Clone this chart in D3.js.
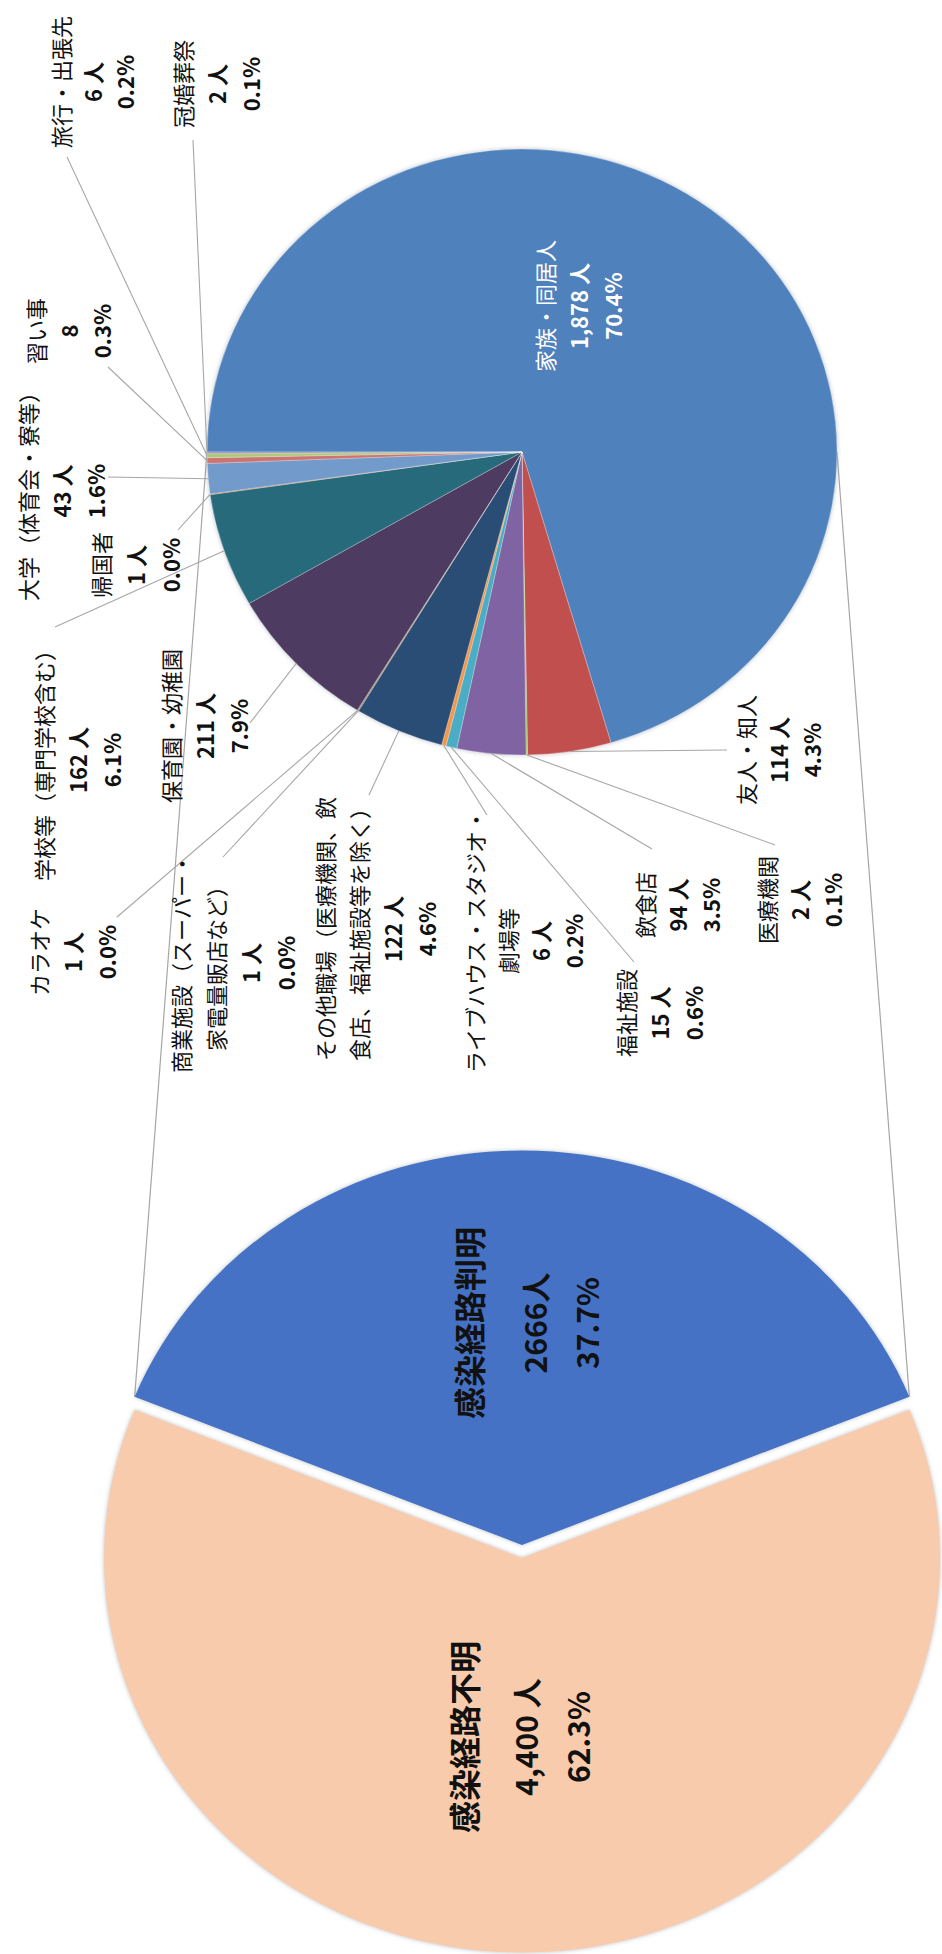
<!DOCTYPE html>
<html>
<head>
<meta charset="utf-8">
<script src="https://cdn.jsdelivr.net/npm/d3@7"></script>
<style>
  html, body { margin: 0; padding: 0; background: #ffffff; }
  svg { display: block; }
  text { font-family: "Noto Sans CJK JP", "Noto Sans", sans-serif; }
</style>
</head>
<body>
<svg id="chart" width="942" height="1954"></svg>
<script>
// ---- primary pie: infection route known / unknown ----
const primaryNames = ["感染経路判明", "感染経路不明"];
const primaryCounts = [2666, 4400];
const primaryCountFormats = ["d", ","];
const primaryUnits = ["人", " 人"];
const primaryColors = ["#4472C4", "#F8CBAD"];

// ---- secondary pie: breakdown of known routes ----
const routeNames = [
  ["家族・同居人"],
  ["友人・知人"],
  ["医療機関"],
  ["飲食店"],
  ["福祉施設"],
  ["ライブハウス・スタジオ・", "劇場等"],
  ["その他職場（医療機関、飲", "食店、福祉施設等を除く）"],
  ["商業施設（スーパー・", "家電量販店など）"],
  ["カラオケ"],
  ["保育園・幼稚園"],
  ["学校等（専門学校含む）"],
  ["帰国者"],
  ["大学（体育会・寮等）"],
  ["習い事"],
  ["旅行・出張先"],
  ["冠婚葬祭"]
];
const routeCounts = [1878, 114, 2, 94, 15, 6, 122, 1, 1, 211, 162, 1, 43, 8, 6, 2];
const routeUnits = [" 人", " 人", " 人", " 人", " 人", " 人", " 人", " 人", " 人", " 人", " 人", " 人", " 人", "", " 人", " 人"];
const routeColors = ["#4F81BD", "#C0504D", "#9BBB59", "#8064A2", "#4BACC6", "#F79646",
                     "#2C4D75", "#772C2A", "#5F7530", "#4D3B62", "#276A7C", "#B65708",
                     "#729ACA", "#CD7371", "#AFC97A", "#9983B5"];

// ---- layout (page is turned a quarter so text runs bottom-to-top) ----
const subPie = { x: 522, y: 452, rx: 315, ry: 303 };
const mainPie = { x: 522, y: 1551.5, r: 418, k: 0.944, explode: 6.5 };

// first text column x, centre y, column step, leader end on the label side
const routeLabelLayout = [
  { x: 544, y: 306, step: 34, inside: true },
  { x: 745, y: 750, step: 33, lead: [727, 750] },
  { x: 766, y: 900, step: 33, lead: [775, 845] },
  { x: 644, y: 905, step: 33, lead: [652, 849] },
  { x: 625, y: 1013, step: 34, lead: [634, 962] },
  { x: 474, y: 941, step: 33, lead: [487, 815] },
  { x: 324, y: 929, step: 34, lead: [369, 795] },
  { x: 180, y: 963, step: 35, lead: [223, 857] },
  { x: 38, y: 952, step: 34, lead: [117, 917] },
  { x: 170, y: 726, step: 34, lead: [250, 723] },
  { x: 43, y: 760, step: 34, lead: [55, 627] },
  { x: 100, y: 565, step: 35, lead: [178, 530] },
  { x: 27, y: 491, step: 34, lead: [108, 477] },
  { x: 35, y: 331, step: 33, lead: [108, 367] },
  { x: 60, y: 82, step: 32, lead: [67, 157] },
  { x: 182, y: 84, step: 34, lead: [193, 140] }
];
const primaryLabelLayout = [
  { x: 468, y: 1323, cols: [0, 66, 118] },
  { x: 463, y: 1737, cols: [0, 62, 114] }
];

const svg = d3.select("#chart");
const defs = svg.append("defs");
const glow = defs.append("filter").attr("id", "edgeGlow")
  .attr("x", "-5%").attr("y", "-5%").attr("width", "110%").attr("height", "110%");
glow.append("feDropShadow").attr("dx", 0).attr("dy", 0)
  .attr("stdDeviation", 2).attr("flood-color", "#7d8a99").attr("flood-opacity", 0.55);

const pct = d3.format(".1%");
const routeTotal = d3.sum(routeCounts);
const primaryTotal = d3.sum(primaryCounts);

// ---- primary pie geometry ----
const knownSpan = 2 * Math.PI * primaryCounts[0] / primaryTotal;
const primaryArcs = d3.pie().sort(null)
  .startAngle(-knownSpan / 2).endAngle(2 * Math.PI - knownSpan / 2)(primaryCounts);
const mainArc = d3.arc().innerRadius(0).outerRadius(mainPie.r);
function primaryCentre(d) {
  const mid = (d.startAngle + d.endAngle) / 2;
  return [mainPie.x + mainPie.explode * Math.sin(mid),
          mainPie.y - mainPie.explode * Math.cos(mid)];
}

// ---- secondary pie geometry ----
const routeArcs = d3.pie().sort(null)
  .startAngle(-Math.PI / 2).endAngle(1.5 * Math.PI)(routeCounts);
const subArc = d3.arc().innerRadius(0).outerRadius(subPie.rx);
function subEdge(a) {
  return [subPie.x + subPie.rx * Math.sin(a), subPie.y - subPie.ry * Math.cos(a)];
}

// ---- connector lines between the known slice and the breakdown pie ----
const known = primaryArcs[0];
const kc = primaryCentre(known);
const tipL = [kc[0] + mainPie.r * Math.sin(known.startAngle), kc[1] - mainPie.r * mainPie.k * Math.cos(known.startAngle)];
const tipR = [kc[0] + mainPie.r * Math.sin(known.endAngle), kc[1] - mainPie.r * mainPie.k * Math.cos(known.endAngle)];
const connectors = [[tipL, [subPie.x - subPie.rx, subPie.y]], [tipR, [subPie.x + subPie.rx, subPie.y]]];
svg.append("g").selectAll("line").data(connectors).join("line")
  .attr("x1", d => d[0][0]).attr("y1", d => d[0][1])
  .attr("x2", d => d[1][0]).attr("y2", d => d[1][1])
  .attr("stroke", "#a6a6a6").attr("stroke-width", 1.2);

// ---- primary pie ----
const mainG = svg.append("g");
mainG.selectAll("g.slice").data(primaryArcs).join("g")
  .attr("class", "slice")
  .attr("filter", "url(#edgeGlow)")
  .attr("transform", d => {
    const c = primaryCentre(d);
    return `translate(${c[0]},${c[1]}) scale(1,${mainPie.k})`;
  })
  .append("path")
  .attr("d", mainArc)
  .attr("fill", (d, i) => primaryColors[i]);

// ---- secondary pie ----
const subG = svg.append("g")
  .attr("filter", "url(#edgeGlow)")
  .attr("transform", `translate(${subPie.x},${subPie.y}) scale(1,${subPie.ry / subPie.rx})`);
subG.selectAll("path").data(routeArcs).join("path")
  .attr("d", subArc)
  .attr("fill", (d, i) => routeColors[i])
  .attr("stroke", "rgba(255,255,255,0.35)")
  .attr("stroke-width", 0.8);

// ---- leader lines ----
const leaders = routeArcs.map((d, i) => ({ d, lay: routeLabelLayout[i] })).filter(o => o.lay.lead);
svg.append("g").selectAll("line").data(leaders).join("line")
  .attr("x1", o => subEdge((o.d.startAngle + o.d.endAngle) / 2)[0])
  .attr("y1", o => subEdge((o.d.startAngle + o.d.endAngle) / 2)[1])
  .attr("x2", o => o.lay.lead[0])
  .attr("y2", o => o.lay.lead[1])
  .attr("stroke", "#a6a6a6").attr("stroke-width", 1.1);

// ---- text helpers: each line is a rotated column ----
function drawColumns(parent, cols, y, lines, fill) {
  lines.forEach((ln, i) => {
    parent.append("text")
      .attr("transform", `translate(${cols[i]},${y}) rotate(-90)`)
      .attr("text-anchor", "middle")
      .attr("dominant-baseline", "central")
      .attr("font-size", ln.size)
      .attr("font-weight", ln.bold ? 700 : 400)
      .attr("fill", fill)
      .text(ln.text);
  });
}

// ---- breakdown labels ----
const labelG = svg.append("g");
routeArcs.forEach((d, i) => {
  const lay = routeLabelLayout[i];
  const lines = routeNames[i].map(t => ({ text: t, bold: false, size: 22 }))
    .concat([
      { text: d3.format(",")(routeCounts[i]) + routeUnits[i], bold: true, size: 22 },
      { text: pct(routeCounts[i] / routeTotal), bold: true, size: 22 }
    ]);
  const cols = lines.map((_, j) => lay.x + j * lay.step);
  drawColumns(labelG, cols, lay.y, lines, lay.inside ? "#ffffff" : "#111111");
});

// ---- primary labels ----
primaryArcs.forEach((d, i) => {
  const lay = primaryLabelLayout[i];
  const lines = [
    { text: primaryNames[i], bold: true, size: 32 },
    { text: d3.format(primaryCountFormats[i])(primaryCounts[i]) + primaryUnits[i], bold: true, size: 30 },
    { text: pct(primaryCounts[i] / primaryTotal), bold: true, size: 30 }
  ];
  drawColumns(labelG, lay.cols.map(c => lay.x + c), lay.y, lines, "#111111");
});
</script>
</body>
</html>
